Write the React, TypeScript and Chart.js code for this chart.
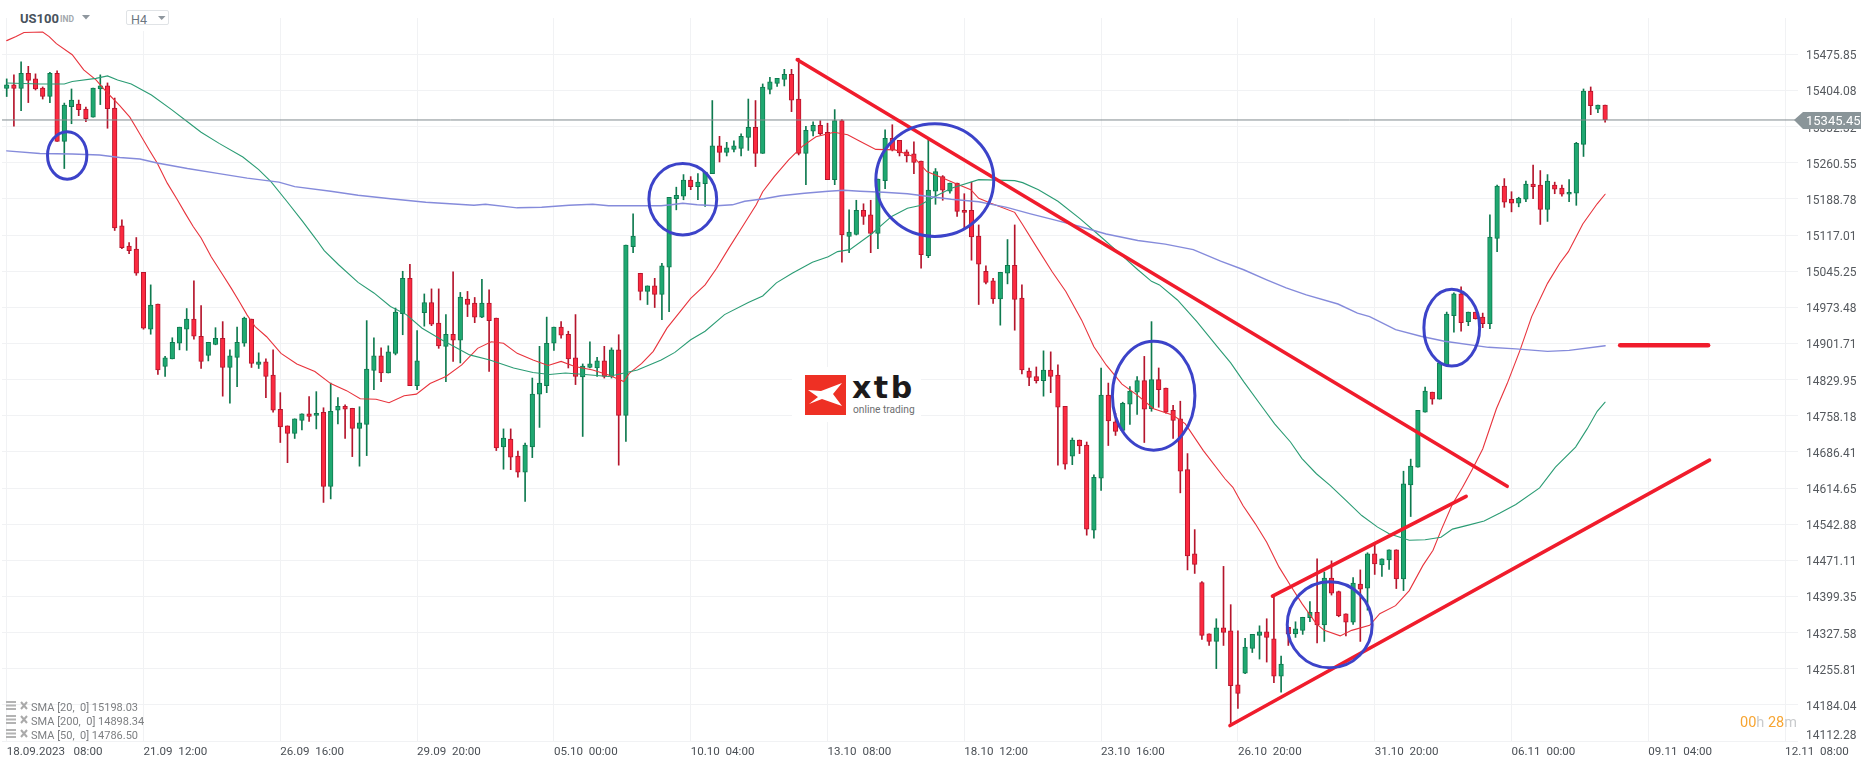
import React, { useEffect, useRef } from "react";
import { Chart, registerables } from "chart.js";

Chart.register(...registerables);

const opens = [
  15408,15415,15408,15438,15427,15409,15392,15438,15303,15372,
  15377,15367,15351,15407,15413,15369,15135,15095,15089,15043,
  14930,14980,14856,14871,14902,14930,14950,14916,14878,14900,
  14912,14854,14874,14902,14950,14860,14865,14839,14771,14738,
  14723,14749,14762,14759,14765,14618,14769,14777,14773,14733,
  14741,14848,14877,14843,14882,14961,15031,14818,14963,14983,
  14942,14896,14920,14908,14990,14982,14954,14982,14952,14696,
  14712,14678,14646,14696,14801,14818,14902,14934,14920,14873,
  14835,14854,14853,14867,14836,14889,14759,15094,15041,15005,
  15016,14999,15053,15189,15194,15226,15213,15219,15239,15294,
  15281,15287,15289,15311,15331,15279,15406,15418,15426,15436,
  15387,15279,15323,15335,15321,15227,15344,15114,15118,15166,
  15157,15120,15225,15309,15305,15282,15278,15264,15076,15204,
  15233,15204,15220,15166,15166,15115,15045,15026,14990,15041,
  15057,14992,14847,14836,14828,14849,14839,14777,14678,14710,
  14700,14531,14634,14799,14746,14729,14781,14805,14828,14772,
  14830,14813,14769,14752,14651,14484,14427,14325,14310,14337,
  14331,14224,14247,14296,14322,14329,14315,14241,14338,14325,
  14332,14357,14368,14343,14436,14409,14365,14348,14424,14416,
  14484,14462,14472,14492,14434,14621,14656,14765,14805,14791,
  14859,14957,15000,14945,14964,14954,14941,15110,15214,15188,
  15180,15188,15218,15216,15168,15216,15210,15198,15200,15297,
  15403,15367,15375,
];
const closes = [
  15415,15408,15438,15424,15407,15392,15438,15303,15375,15385,
  15366,15348,15409,15413,15368,15131,15092,15086,15041,14932,
  14978,14849,14873,14904,14934,14950,14916,14866,14904,14912,
  14854,14877,14904,14952,14862,14865,14836,14769,14736,14723,
  14752,14762,14757,14763,14618,14767,14777,14771,14733,14744,
  14851,14877,14843,14885,14964,15031,14818,14867,14983,14940,
  14897,14920,14908,14994,14979,14954,14982,14947,14694,14714,
  14676,14646,14700,14801,14823,14902,14934,14918,14871,14836,
  14857,14861,14867,14836,14889,14759,15097,15115,15005,15016,
  14999,15056,15192,15196,15226,15213,15222,15242,15294,15281,
  15290,15294,15313,15331,15279,15411,15421,15428,15436,15385,
  15279,15325,15335,15318,15227,15344,15117,15123,15166,15154,
  15120,15228,15309,15286,15280,15274,15261,15078,15206,15243,
  15206,15220,15164,15162,15113,15059,15023,14990,15043,15057,
  14989,14849,14834,14828,14849,14836,14775,14662,14710,14698,
  14533,14636,14799,14748,14727,14783,14807,14828,14771,14830,
  14810,14765,14749,14648,14480,14463,14322,14310,14337,14328,
  14222,14207,14299,14324,14329,14318,14241,14265,14325,14335,
  14358,14368,14343,14436,14406,14361,14348,14426,14414,14484,
  14464,14474,14492,14434,14623,14658,14769,14807,14791,14863,
  14960,15000,14943,14964,14951,14941,15113,15214,15182,15180,
  15190,15218,15213,15168,15224,15208,15198,15202,15299,15403,
  15374,15375,15345.45,
];
const highs = [
  15427,15435,15461,15452,15437,15411,15440,15443,15379,15407,
  15385,15371,15409,15435,15419,15389,15147,15102,15112,15043,
  15018,14980,14876,14913,14934,14971,15026,14977,14904,14933,
  14945,14889,14934,14954,14950,14883,14871,14889,14804,14738,
  14752,14762,14796,14806,14774,14823,14794,14780,14773,14776,
  14947,14913,14893,14897,14972,15045,15059,14927,15000,15010,
  15010,14959,15044,15003,15005,14993,15029,15008,14952,14732,
  14732,14688,14704,14833,14896,14954,14934,14945,14926,14959,
  14861,14905,14874,14896,14893,14919,15097,15159,15041,15016,
  15031,15061,15192,15212,15237,15233,15239,15242,15384,15313,
  15301,15304,15318,15387,15384,15417,15430,15428,15446,15446,
  15468,15333,15342,15344,15339,15366,15346,15167,15186,15179,
  15186,15228,15326,15336,15305,15286,15302,15264,15306,15249,
  15235,15220,15220,15199,15222,15137,15056,15031,15043,15108,
  15137,15018,14853,14855,14887,14885,14859,14777,14714,14710,
  14706,14641,14853,14823,14763,14785,14816,14836,14876,14945,
  14853,14813,14779,14787,14683,14532,14429,14325,14355,14459,
  14383,14331,14316,14324,14341,14355,14402,14281,14338,14349,
  14358,14389,14474,14448,14470,14410,14365,14437,14452,14486,
  14501,14474,14492,14492,14648,14672,14769,14815,14805,14863,
  14964,15002,15014,14964,14964,14962,15157,15216,15229,15203,
  15192,15224,15256,15245,15237,15222,15216,15227,15301,15407,
  15411,15375,15375,
];
const lows = [
  15392,15333,15364,15380,15405,15387,15380,15303,15249,15338,
  15354,15342,15351,15376,15329,15126,15090,15080,15037,14930,
  14920,14840,14836,14871,14889,14888,14910,14852,14867,14899,
  14797,14783,14816,14896,14854,14852,14794,14765,14705,14665,
  14713,14730,14747,14732,14586,14593,14742,14713,14677,14658,
  14679,14810,14826,14843,14879,14919,14818,14810,14936,14937,
  14892,14826,14866,14863,14955,14943,14953,14846,14689,14652,
  14651,14636,14588,14675,14735,14804,14888,14912,14853,14820,
  14717,14853,14836,14833,14833,14660,14707,15082,14988,14979,
  14973,14949,14965,15167,15187,15207,15187,15174,15239,15262,
  15274,15282,15274,15285,15253,15279,15397,15412,15413,15362,
  15276,15217,15314,15316,15227,15217,15063,15082,15117,15138,
  15082,15090,15209,15284,15274,15262,15239,15051,15072,15178,
  15186,15200,15154,15131,15067,14979,15020,14981,14938,15020,
  14928,14841,14818,14823,14797,14804,14660,14652,14661,14683,
  14521,14515,14610,14699,14719,14725,14741,14761,14705,14767,
  14775,14763,14713,14605,14452,14445,14314,14302,14256,14302,
  14147,14177,14246,14288,14275,14269,14228,14209,14302,14318,
  14324,14349,14307,14310,14402,14359,14321,14344,14310,14372,
  14443,14439,14453,14415,14411,14558,14656,14765,14781,14791,
  14859,14924,14926,14937,14950,14933,14931,15084,15172,15163,
  15173,15183,15189,15138,15144,15199,15194,15183,15176,15273,
  15356,15360,15341,
];

const sma20Index = [
  0,1.3,2.4,5,5.9,6.9,9.1,10.7,12.4,14,15.7,17.1,17.9,19.8,20.9,22.3,23.7,24.8,25.9,27,
  28.4,30,31.2,32.3,33.4,34.5,36.1,38.1,40.3,42.8,45,47.2,49.1,51.3,53.1,55.2,56.9,58.8,61,63.2,
  65.4,67.3,69,70.9,73.1,75.2,77,78.9,81.4,83.6,85.7,86.5,88.2,89.8,91.7,93.7,95,97,98.6,100.3,
  102.2,104.1,105,106.6,108.6,110.5,112.4,114.9,116.8,118.5,120.7,123.4,125.9,127.8,130,131.7,133.9,135,136.7,140,
  141,143,145.2,147.1,149.3,151,152.7,154.9,157.1,159.3,162,163.7,166.2,169.2,170.3,171.7,173.4,175,176.7,178.3,
  179.9,181.9,183,185.2,186.8,189.3,190.7,192.9,194.8,196.7,198.1,199.2,200.8,202.2,203.6,205,206.9,208.4,210.2,211.8,
  214,215.7,216.9,218.9,220.9,222,
];
const sma20Prices = [
  15503,15511,15519,15520,15511,15497,15475,15445,15425,15399,15374,15351,15332,15286,15260,15220,15187,15160,15134,15111,
  15074,15038,15011,14985,14958,14935,14915,14882,14861,14846,14822,14808,14792,14791,14784,14798,14801,14822,14836,14859,
  14892,14905,14902,14882,14869,14858,14866,14856,14849,14839,14826,14843,14862,14886,14932,14968,14991,15018,15051,15091,
  15134,15177,15203,15233,15266,15293,15312,15321,15316,15303,15287,15286,15273,15243,15230,15220,15207,15190,15180,15162,
  15140,15094,15044,15005,14948,14895,14859,14821,14798,14772,14759,14742,14689,14633,14616,14580,14544,14507,14458,14421,
  14385,14345,14332,14321,14332,14342,14365,14381,14411,14461,14491,14530,14583,14616,14653,14692,14772,14822,14889,14955,
  15021,15061,15084,15139,15179,15198,
];

const sma50Index = [
  0,4.6,8,9.1,12.4,14,15.4,17.3,20.1,22.9,25.1,27,29.5,32.8,35,36.7,38.9,41.1,43,44.1,
  46.1,48.8,51,53.3,55.5,57.7,60.4,64.3,67.1,70.4,73.1,75.4,77.6,80.3,83.6,87.6,90.9,92.8,95,97,
  99.7,103,105,106.9,109.1,111.9,114.1,115.4,117.1,120.1,122.9,125.1,126.7,129,131.2,135,140,141.1,143.3,146,
  149.1,151.6,154.3,157.1,159,160.1,162.6,165.3,168.1,170,171.8,174.4,176.1,178.3,179.9,181.9,183.8,186,188.2,190.4,
  192,194.8,197,199.2,200.8,203,205.2,207.4,209.6,212.9,215.1,217.9,219.5,220.9,222,
];
const sma50Prices = [
  15419,15417,15417,15422,15428,15433,15425,15417,15395,15366,15342,15321,15299,15272,15247,15223,15184,15144,15108,15086,
  15058,15023,15002,14975,14959,14932,14909,14879,14869,14853,14844,14840,14843,14840,14836,14849,14869,14884,14909,14926,
  14959,14983,14996,15022,15041,15063,15074,15084,15088,15119,15154,15170,15175,15194,15210,15227,15225,15221,15207,15184,
  15149,15118,15084,15048,15025,15018,14988,14945,14896,14863,14826,14775,14742,14706,14673,14643,14620,14590,14560,14537,
  14524,14511,14512,14517,14533,14541,14549,14565,14582,14615,14656,14696,14732,14767,14785,
];

const sma200Index = [
  0,4.6,9.1,12.9,15.7,18.5,20.9,25.1,29.5,33.4,37.8,40,45,48.8,53.3,58.2,64.9,66.5,70.9,74.3,
  78.1,81.4,83.6,90.9,92.3,93.9,95.9,98.6,100.8,102.5,105.2,107.5,110.8,114.1,116.3,118.5,121.8,125.1,127.8,131.2,
  135,138.9,142.2,145.5,148.8,152.7,157.1,160.9,164.8,168.6,171.8,175,177.7,180.5,184.9,187.6,189.3,192.9,196.4,199.7,
  205.8,209.6,214,217,222,
];
const sma200Prices = [
  15284,15279,15278,15276,15271,15268,15260,15249,15239,15230,15222,15213,15204,15196,15189,15182,15176,15178,15171,15172,
  15176,15178,15175,15175,15177,15180,15177,15175,15177,15184,15189,15195,15200,15204,15206,15204,15202,15199,15194,15188,
  15183,15172,15159,15147,15135,15119,15106,15099,15088,15065,15048,15028,15012,14998,14980,14962,14955,14929,14916,14906,
  14894,14891,14886,14888,14897,
];

const priceTicks = [
  15475.85,15404.08,15332.32,15260.55,15188.78,15117.01,15045.25,14973.48,14901.71,14829.95,
  14758.18,14686.41,14614.65,14542.88,14471.11,14399.35,14327.58,14255.81,14184.04,14112.28,
];
const timeTickIndex = [0,19,38,57,76,95,114,133,152,171,190,209,228,247];
const timeTickLabels = [
  "18.09.2023   08:00","21.09  12:00","26.09  16:00","29.09  20:00","05.10  00:00","10.10  04:00","13.10  08:00",
  "18.10  12:00","23.10  16:00","26.10  20:00","31.10  20:00","06.11  00:00","09.11  04:00","12.11  08:00",
];

const currentPrice = 15345.45;
const currentLineIndex = [-1, 249];
const currentLinePrices = [currentPrice, currentPrice];

const falling = { index: [109.8, 208.4], price: [15465, 14618] };
const channelUpper = { index: [175.8, 202.7], price: [14400, 14598] };
const channelLower = { index: [169.9, 236.5], price: [14143, 14670] };
const levelMark = { index: [224.1, 236.3], price: [14898, 14898] };

// Hand-drawn rings: centre and half-extent in (candle index, price)
const ringCenterIndex = [8.4, 93.9, 128.9, 159.3, 183.75, 200.7];
const ringCenterPrice = [15275, 15188, 15226, 14798, 14343, 14933];
const ringHalfIndex = [2.73, 4.71, 8.19, 5.73, 5.9, 3.87];
const ringHalfPrice = [47.3, 70.8, 111.8, 108.2, 85.4, 76.1];

const legendRows = ["SMA [20,  0] 15198.03", "SMA [200,  0] 14898.34", "SMA [50,  0] 14786.50"];

const UP = "#1fa871", UP_EDGE = "#0e7a4f", DOWN = "#fb2a40", DOWN_EDGE = "#b5152c";
const TREND = "#f01c2c";

const zip = (xs: number[], ys: number[]) => xs.map((x, i) => ({ x, y: ys[i] }));
const isUp = (i: number) => closes[i] >= opens[i];

const ringsPlugin = {
  id: "rings",
  afterDatasetsDraw(chart: any) {
    const { ctx, scales, chartArea } = chart;
    ctx.save();
    ctx.beginPath();
    ctx.rect(chartArea.left, chartArea.top, chartArea.width, chartArea.height);
    ctx.clip();
    ctx.strokeStyle = "#3c43c9";
    ctx.lineWidth = 3;
    ringCenterIndex.forEach((ci, k) => {
      const cx = scales.x.getPixelForValue(ci);
      const cy = scales.y.getPixelForValue(ringCenterPrice[k]);
      const rx = Math.abs(scales.x.getPixelForValue(ci + ringHalfIndex[k]) - cx);
      const ry = Math.abs(scales.y.getPixelForValue(ringCenterPrice[k] + ringHalfPrice[k]) - cy);
      ctx.beginPath();
      ctx.ellipse(cx, cy, rx, ry, 0, 0, Math.PI * 2);
      ctx.stroke();
    });
    ctx.restore();
  },
};

function ChartCanvas() {
  const ref = useRef<HTMLCanvasElement>(null);
  useEffect(() => {
    const line = (data: any[], color: string, width: number, order: number) => ({
      type: "line" as const,
      data,
      borderColor: color,
      borderWidth: width,
      pointRadius: 0,
      tension: 0,
      order,
      parsing: { xAxisKey: "x", yAxisKey: "y" },
      borderCapStyle: "round" as const,
    });
    const chart = new Chart(ref.current as HTMLCanvasElement, {
      type: "bar",
      data: {
        datasets: [
          {
            type: "bar",
            data: opens.map((_, i) => ({ x: i, y: [lows[i], highs[i]] })),
            backgroundColor: opens.map((_, i) => (isUp(i) ? UP_EDGE : DOWN_EDGE)),
            barThickness: 1,
            borderWidth: 0,
            grouped: false,
            order: 6,
          },
          {
            type: "bar",
            data: opens.map((_, i) => ({ x: i, y: [opens[i], closes[i]] })),
            backgroundColor: opens.map((_, i) => (isUp(i) ? UP : DOWN)),
            borderColor: opens.map((_, i) => (isUp(i) ? UP_EDGE : DOWN_EDGE)),
            borderWidth: 1,
            borderSkipped: false,
            barThickness: 4.6,
            grouped: false,
            order: 5,
          },
          line(zip(sma200Index, sma200Prices), "#858bdb", 1.4, 4),
          line(zip(sma50Index, sma50Prices), "#2b9c74", 1.1, 4),
          line(zip(sma20Index, sma20Prices), "#e8333c", 1.1, 4),
          line(zip(currentLineIndex, currentLinePrices), "#808b8e", 1, 3),
          line(zip(falling.index, falling.price), TREND, 3.6, 1),
          line(zip(channelUpper.index, channelUpper.price), TREND, 3.6, 1),
          line(zip(channelLower.index, channelLower.price), TREND, 3.6, 1),
          line(zip(levelMark.index, levelMark.price), TREND, 4.6, 1),
        ] as any,
      },
      options: {
        responsive: false,
        animation: false,
        devicePixelRatio: 1,
        layout: { padding: { left: 2, top: 18, right: 0, bottom: 0 } },
        plugins: { legend: { display: false }, tooltip: { enabled: false } },
        scales: {
          x: {
            type: "linear",
            min: -0.653,
            max: 248.79,
            offset: false,
            bounds: "data",
            grid: { color: "#f1f2f4", lineWidth: 1, drawTicks: false, offset: false },
            border: { display: false },
            afterBuildTicks: (axis: any) => {
              axis.ticks = timeTickIndex.map((value) => ({ value }));
            },
            afterFit: (axis: any) => {
              axis.height = 26;
            },
            ticks: {
              autoSkip: false,
              maxRotation: 0,
              minRotation: 0,
              align: "start",
              padding: 4,
              color: "#4a4f55",
              font: { family: "Roboto", size: 11.6 },
              callback: (v: any) => timeTickLabels[timeTickIndex.indexOf(Number(v))] ?? "",
            },
          },
          y: {
            type: "linear",
            position: "right",
            min: 14112.28,
            max: 15547.93,
            bounds: "data",
            grid: { color: "#f1f2f4", lineWidth: 1, drawTicks: false },
            border: { display: false },
            afterBuildTicks: (axis: any) => {
              axis.ticks = priceTicks.map((value) => ({ value }));
            },
            afterFit: (axis: any) => {
              axis.width = 68;
              axis.paddingTop = 0;
              axis.paddingBottom = 0;
            },
            ticks: {
              autoSkip: false,
              padding: 8,
              labelOffset: 2,
              color: "#55595e",
              font: { family: "Roboto", size: 12 },
              // the lowest label sits a little above its gridline
              callback: (v: any) => {
                const text = Number(v).toFixed(2);
                return Number(v) === priceTicks[priceTicks.length - 1] ? [text, ""] : text;
              },
            },
          },
        },
      } as any,
      plugins: [ringsPlugin],
    });
    return () => chart.destroy();
  }, []);
  return <canvas ref={ref} width={1866} height={767} style={{ display: "block", position: "absolute", left: 0, top: 0 }} />;
}

const abs = (left: number, top: number, extra: React.CSSProperties = {}): React.CSSProperties => ({
  position: "absolute",
  left,
  top,
  whiteSpace: "pre",
  fontFamily: "Roboto",
  ...extra,
});

function Header() {
  return (
    <>
      <div style={abs(9, 0, { width: 166, height: 31, background: "#fff" })} />
      <div style={abs(20, 10, { fontSize: 13, fontWeight: 700, color: "#48525c", lineHeight: "18px" })}>US100</div>
      <div style={abs(60, 12, { fontSize: 8.5, fontWeight: 700, color: "#a3a8ad", lineHeight: "14px" })}>IND</div>
      <svg style={abs(82, 15)} width={9} height={5}><polygon points="0,0 8,0 4,4.5" fill="#8f979e" /></svg>
      <div style={abs(126, 10, { width: 43, height: 15, border: "1px solid #e0e3e6", borderRadius: 2, boxSizing: "border-box", background: "#fff" })} />
      <div style={abs(131, 12, { fontSize: 12.5, color: "#6c7680", lineHeight: "16px" })}>H4</div>
      <svg style={abs(158, 16)} width={8} height={5}><polygon points="0,0 7.5,0 3.7,4" fill="#8f979e" /></svg>
    </>
  );
}

function Logo() {
  return (
    <>
      <div style={abs(792, 367, { width: 129, height: 55, background: "#fff" })} />
      <svg style={abs(805, 375)} width={41} height={40}>
        <rect width={41} height={40} fill="#ee3024" />
        <polygon points="3,15 16,16 37,8 28,19 37,31 17,24 4,29 13,22" fill="#fff" />
      </svg>
      <div style={abs(852, 370, { fontFamily: "DejaVu Sans", fontWeight: 700, fontSize: 30, letterSpacing: 2.5, lineHeight: "36px", color: "#1c1a1b" })}>xtb</div>
      <div style={abs(853, 402, { fontSize: 10.2, color: "#6d6e70", lineHeight: "15px" })}>online trading</div>
    </>
  );
}

function PriceTag() {
  return (
    <>
      <svg style={abs(1794, 112)} width={67} height={17}>
        <polygon points="0,8 9,0 67,0 67,17 9,17" fill="#8a9599" />
      </svg>
      <div style={abs(1806, 113, { fontSize: 13, color: "#fff", lineHeight: "16px" })}>{currentPrice.toFixed(2)}</div>
    </>
  );
}

function Countdown() {
  return (
    <div style={abs(1740, 714, { fontSize: 14.5, lineHeight: "18px" })}>
      <span style={{ color: "#f7a532" }}>00</span>
      <span style={{ color: "#c9cbcd" }}>h </span>
      <span style={{ color: "#f7a532" }}>28</span>
      <span style={{ color: "#c9cbcd" }}>m</span>
    </div>
  );
}

function Legend() {
  return (
    <>
      {legendRows.map((label, k) => {
        const top = 701 + k * 14;
        return (
          <React.Fragment key={label}>
            <svg style={abs(6, top)} width={22} height={11}>
              <rect x={0} y={0} width={10} height={2} fill="#b3b3b3" />
              <rect x={0} y={3.5} width={10} height={2} fill="#b3b3b3" />
              <rect x={0} y={7} width={10} height={2} fill="#b3b3b3" />
              <path d="M15 1 L21 8 M21 1 L15 8" stroke="#aaa" strokeWidth={2} />
            </svg>
            <div style={abs(31, top - 0.5, { fontSize: 11, color: "#7d7f82", lineHeight: "14px" })}>{label}</div>
          </React.Fragment>
        );
      })}
    </>
  );
}

export default function App() {
  return (
    <div style={{ position: "absolute", left: 0, top: 0, width: 1866, height: 767, overflow: "hidden", background: "#fff" }}>
      <ChartCanvas />
      <Header />
      <Logo />
      <PriceTag />
      <Countdown />
      <Legend />
    </div>
  );
}
